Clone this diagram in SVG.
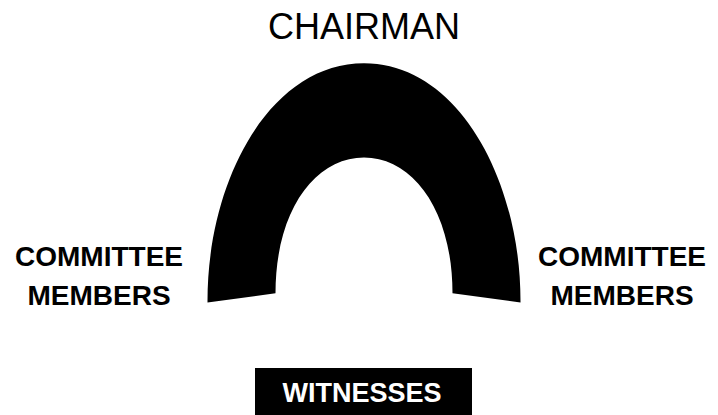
<svg xmlns="http://www.w3.org/2000/svg" width="718" height="415" viewBox="0 0 718 415">
<style>
.t{font-family:"Liberation Sans",Arial,sans-serif;text-anchor:middle}
.b{font-weight:bold;font-size:28px;fill:#000}
</style>
<rect width="718" height="415" fill="#fff"/>
<g id="chairman">
<text class="t" x="364" y="39" font-size="36">CHAIRMAN</text>
</g>
<g id="table">
<path d="M207.5,302.5 C207,180 270,63.3 364,63.3 C458,63.3 521,180 520.5,302.5 L452.5,293.3 C452.5,210 412.5,157.5 364,157.5 C315.5,157.5 275.5,210 275.5,293.3 Z" fill="#000"/>
</g>
<g id="members-left">
<text class="t b" x="99" y="266">COMMITTEE</text>
<text class="t b" x="99" y="305">MEMBERS</text>
</g>
<g id="members-right">
<text class="t b" x="622" y="266">COMMITTEE</text>
<text class="t b" x="622" y="305">MEMBERS</text>
</g>
<g id="witnesses">
<rect x="255" y="368" width="217" height="47" fill="#000"/>
<text class="t" x="362" y="402" font-size="27" font-weight="bold" fill="#fff">WITNESSES</text>
</g>
</svg>
